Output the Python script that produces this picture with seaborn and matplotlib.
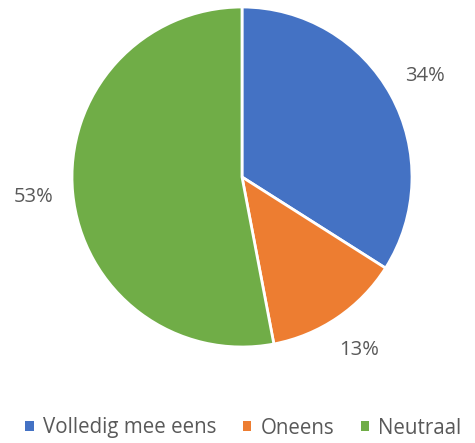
import matplotlib
matplotlib.use("Agg")
import matplotlib.pyplot as plt
import seaborn as sns
from matplotlib.patches import Patch

categories = ["Volledig mee eens", "Oneens", "Neutraal"]
values = [34, 13, 53]
colors = ["#4472C4", "#ED7D31", "#70AD47"]

sns.set_theme(style="white")
plt.rcParams['font.family'] = ['Open Sans', 'DejaVu Sans']

fig = plt.figure(figsize=(4.75, 4.43), dpi=100)
ax = fig.add_axes([(242 - 170) / 475, (443 - 347) / 443, 340 / 475, 340 / 443])
wedges, texts, autotexts = ax.pie(
    values, colors=colors, startangle=90, counterclock=False,
    autopct=lambda p: f"{p:.0f}%", pctdistance=1.23,
    wedgeprops=dict(edgecolor="white", linewidth=2),
    textprops=dict(fontsize=14.5, color="#595959"))
ax.set_xlim(-1, 1)
ax.set_ylim(-1, 1)
ax.set_aspect("equal")

handles = [Patch(facecolor=c, edgecolor="none") for c in colors]
fig.legend(handles, categories, loc="center", bbox_to_anchor=(0.5 + 6 / 475, 1 - 428 / 443),
           ncol=3, frameon=False, fontsize=14.8, handlelength=0.4, handleheight=0.4,
           handletextpad=0.45, columnspacing=1.3, labelcolor="#595959")

fig.savefig("out.png", dpi=100)
